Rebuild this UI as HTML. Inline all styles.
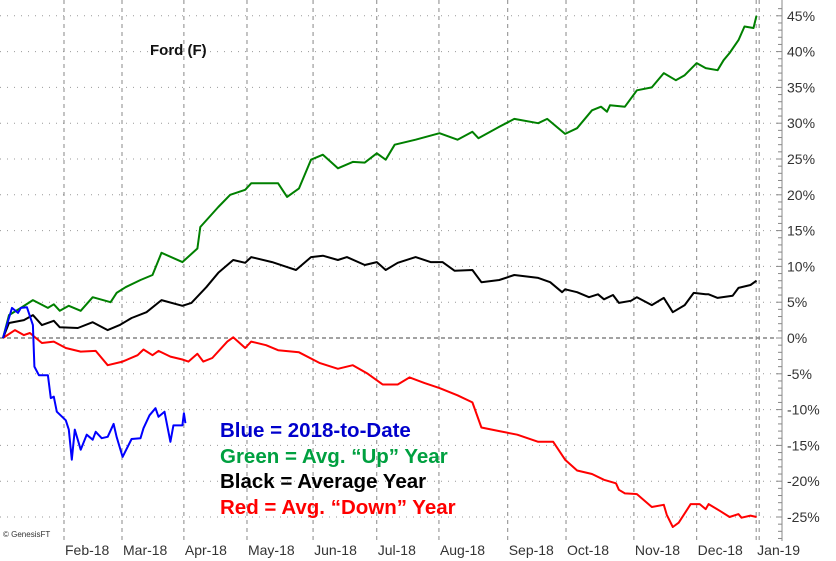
<!DOCTYPE html>
<html><head><meta charset="utf-8">
<style>
html,body{margin:0;padding:0;background:#fff;}
svg{display:block;font-family:"Liberation Sans",Arial,sans-serif;}
</style></head>
<body>
<svg id="chart" width="836" height="561" viewBox="0 0 836 561" xmlns="http://www.w3.org/2000/svg">
  <g id="grid"></g>
  <g id="axis"></g>
  <g id="xaxis"></g>
  <g id="series"></g>
  <text x="150" y="55" font-size="15" font-weight="bold" fill="#111">Ford (F)</text>
  <g font-size="20.5" font-weight="bold">
    <text x="220" y="437" fill="#0000cc">Blue = 2018-to-Date</text>
    <text x="220" y="463" fill="#00a040">Green = Avg. “Up” Year</text>
    <text x="220" y="488" fill="#000">Black = Average Year</text>
    <text x="220" y="514" fill="#ff0000">Red = Avg. “Down” Year</text>
  </g>
  <text x="3" y="537" font-size="8" fill="#333">© GenesisFT</text>
</svg>
<script>
const yTicks = [45,40,35,30,25,20,15,10,5,0,-5,-10,-15,-20,-25];
const monthLabels = ["Feb-18","Mar-18","Apr-18","May-18","Jun-18","Jul-18","Aug-18","Sep-18","Oct-18","Nov-18","Dec-18","Jan-19"];
const monthStartDay = [20.4,39.8,60.5,81.6,103.7,125,145.8,168.8,188.3,211,232,251.9];

const greenDays = [0,2,6,10,15,17,19,22,26,30,36,38,41,46,50,53,60,65,66,72,76,81,83,92,95,99,103,107,112,117,121,125,128,131,138,146,152,157,159,166,171,179,182,188,192,197,200,202,203,208,212,217,221,225,228,232,235,239,241,243,246,248,251,252];
const greenVals = [0,3.2,4.2,5.3,4.2,4.7,3.8,4.5,3.8,5.7,5.0,6.3,7.1,8.1,8.8,11.9,10.6,12.5,15.5,18.3,20,20.7,21.6,21.6,19.7,20.9,24.9,25.6,23.7,24.6,24.5,25.8,24.9,27,27.7,28.6,27.7,28.8,27.9,29.5,30.6,30.0,30.6,28.5,29.3,31.8,32.3,31.6,32.5,32.3,34.6,35.0,37.0,36.0,36.7,38.4,37.7,37.4,38.8,39.8,41.6,43.5,43.3,45];

const blackDays = [0,2,7,10,13,17,19,25,30,35,39,43,48,53,60,63,68,72,77,81,83,90,95,98,103,107,112,115,121,125,128,132,138,143,147,151,157,160,166,171,179,183,187,188,192,196,199,201,204,206,210,212,217,221,224,228,231,235,236,239,244,246,250,252];
const blackVals = [0,2.1,2.5,3.2,1.8,2.4,1.5,1.4,2.2,1.1,1.8,2.8,3.6,5.3,4.5,4.9,7.1,9.1,10.9,10.5,11.3,10.6,9.9,9.5,11.3,11.5,10.9,11.3,10.2,10.6,9.5,10.5,11.3,10.6,10.6,9.4,9.5,7.8,8.1,8.8,8.4,7.8,6.4,6.8,6.4,5.7,6.1,5.4,6.0,4.9,5.2,5.7,4.6,5.6,3.6,4.6,6.3,6.1,6.1,5.6,5.9,7.0,7.4,8.0];

const redDays = [0,4,7,9,13,17,21,26,31,35,40,45,47,50,52,56,60,62,65,67,70,75,77,81,83,88,92,99,106,112,117,122,127,132,136,141,146,152,157,160,166,172,179,184,188,192,197,201,205,206,208,212,217,221,222,224,226,230,233,235,236,240,243,246,247,250,252];
const redVals = [0,1.1,0.4,0.7,-0.7,-0.5,-1.4,-1.9,-1.8,-3.8,-3.3,-2.4,-1.6,-2.4,-1.8,-2.6,-3.0,-3.3,-2.2,-3.3,-2.8,-0.5,0.1,-1.4,-0.5,-1.0,-1.7,-2,-3.5,-4.3,-3.8,-5,-6.5,-6.5,-5.5,-6.3,-7,-8,-9,-12.5,-13,-13.5,-14.5,-14.5,-17,-18.5,-19,-19.8,-20.3,-21.2,-21.7,-21.8,-23.6,-23.3,-24.7,-26.4,-25.8,-23.2,-23.2,-23.9,-23.2,-24.2,-25,-24.6,-25.1,-24.8,-25];

const blueDays = [0,3,5,6,8,10,10.5,12,15,16,17,18,21,22,23,24,26,28,30,31,33,35,37,38,40,43,46,47,49,51,52,54,56,57,60,60.5,61];
const blueVals = [0,4.2,3.5,4.2,4.3,1.8,-4.0,-5.2,-5.2,-8.4,-8.2,-10.3,-11.5,-12.8,-17,-12.8,-15.6,-13.5,-14.2,-13.1,-14,-13.8,-12,-13.8,-16.6,-14.1,-14,-12.6,-10.8,-9.8,-11,-10.3,-14.5,-12.2,-12.2,-10.5,-11.9];

const NS = "http://www.w3.org/2000/svg";
const X0 = 3, XPER = 2.99, Y0 = 338, YPER = 7.16, AXIS_X = 782, PLOT_BOTTOM = 541;
function xScale(d){ return X0 + d * XPER; }
function yScale(v){ return Y0 - v * YPER; }
function mk(tag, attrs, parent){ const e = document.createElementNS(NS, tag); for (const k in attrs) e.setAttribute(k, attrs[k]); parent.appendChild(e); return e; }

const grid = document.getElementById('grid');
const axis = document.getElementById('axis');
const xaxis = document.getElementById('xaxis');
const series = document.getElementById('series');

yTicks.forEach(t => {
  const y = yScale(t);
  const l = mk('line', {x1:0, x2:AXIS_X, y1:y, y2:y, stroke: t===0 ? '#444' : '#999', 'stroke-width':1, 'stroke-dasharray': t===0 ? '4,3' : '1,6'}, grid);
  
  
  const tx = mk('text', {x:787, y:y+5, 'font-size':14, fill:'#333'}, axis);
  tx.textContent = t + '%';
  
  
});
for (let v = -28; v <= 46; v++) {
  const y = yScale(v);
  const tk = mk('line', {x1: AXIS_X - (v % 5 === 0 ? 6 : 4), x2: AXIS_X, y1:y, y2:y, stroke:'#888', 'stroke-width':1}, axis);
  
  
}
const ax = mk('line', {x1:AXIS_X, x2:AXIS_X, y1:0, y2:PLOT_BOTTOM, stroke:'#888', 'stroke-width':1}, axis);



monthStartDay.forEach((d, i) => {
  const x = xScale(d);
  const g = mk('line', {x1:x, x2:x, y1:0, y2:PLOT_BOTTOM, stroke:'#888', 'stroke-width':1, 'stroke-dasharray':'4,4'}, grid);
  
  
  const tx = mk('text', {x:x+1, y:555, 'font-size':14, fill:'#333'}, xaxis);
  tx.textContent = monthLabels[i];
  
  
});
const extra = mk('line', {x1:xScale(monthStartDay[monthStartDay.length-1])+3, x2:xScale(monthStartDay[monthStartDay.length-1])+3, y1:0, y2:PLOT_BOTTOM, stroke:'#888', 'stroke-width':1, 'stroke-dasharray':'4,4'}, grid);



function drawLine(days, vals, color, name){
  const pts = days.map((d,i) => xScale(d).toFixed(1) + ',' + yScale(vals[i]).toFixed(1)).join(' ');
  const p = mk('polyline', {points:pts, fill:'none', stroke:color, 'stroke-width':2, 'stroke-linejoin':'round'}, series);
  
  
}
drawLine(redDays, redVals, '#ff0000', 'red-down-year-line');
drawLine(greenDays, greenVals, '#008000', 'green-up-year-line');
drawLine(blackDays, blackVals, '#000000', 'black-average-year-line');
drawLine(blueDays, blueVals, '#0000ff', 'blue-2018-line');
</script>
</body></html>
